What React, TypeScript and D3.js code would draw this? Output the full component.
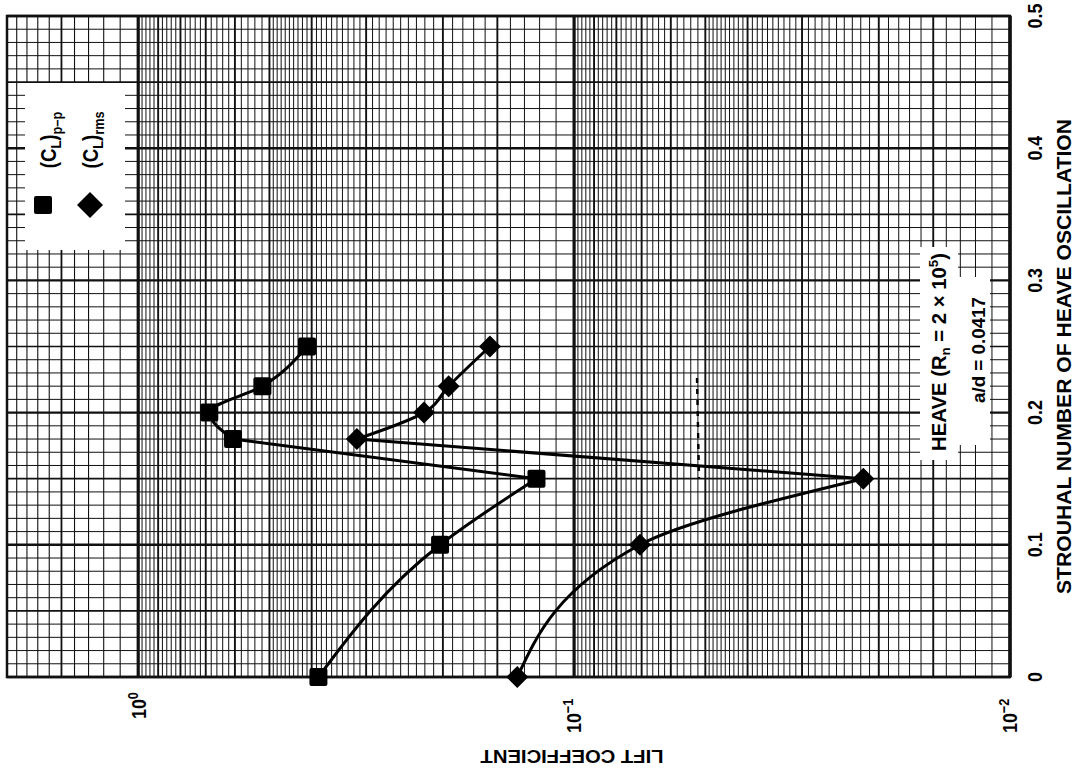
import React from "react";
import * as d3 from "d3";

const strouhal = [0, 0.1, 0.15, 0.18, 0.2, 0.22, 0.25];
const clPeakToPeak = [0.386, 0.203, 0.122, 0.606, 0.687, 0.519, 0.41];
const clRms = [0.135, 0.0706, 0.0217, 0.315, 0.221, 0.194, 0.156];
const stTicks = [0, 0.1, 0.2, 0.3, 0.4, 0.5];
const stTickLabels = ["0", "0.1", "0.2", "0.3", "0.4", "0.5"];
const decadeTicks = [1, 0.1, 0.01];
const decadeExp = ["0", "\u22121", "\u22122"];

const W = 1079;
const H = 773;
const FONT = "'Liberation Sans', Arial, sans-serif";
const SQZ = "scale(0.85,1)";

export default function App() {
  const x = d3.scaleLog().domain([2, 0.01]).range([7, 1010]);
  const y = d3.scaleLinear().domain([0, 0.5]).range([677, 16]);

  // graph-paper vertical lines (log)
  const vLines: { v: number; w: number }[] = [];
  for (let k = 10; k <= 20; k++) {
    const v = k / 10;
    vLines.push({ v, w: k === 10 ? 3.2 : k === 15 ? 1.8 : 1.1 });
  }
  [0.1, 0.01].forEach((d) => {
    for (let k = 10; k < 50; k++) {
      const v = (k / 100) * d * 10;
      const isInt = k % 10 === 0;
      const isHalf = k === 15;
      vLines.push({ v, w: k === 10 ? 3.2 : isInt || isHalf ? 1.9 : 1 });
    }
    for (let k = 50; k < 100; k += 2) {
      const v = (k / 100) * d * 10;
      vLines.push({ v, w: k % 10 === 0 ? 1.9 : 1 });
    }
  });
  vLines.push({ v: 0.01, w: 3 });

  const hLines: { v: number; w: number }[] = [];
  for (let k = 0; k <= 50; k++) {
    hLines.push({ v: k / 100, w: k % 10 === 0 ? 2.4 : k % 5 === 0 ? 1.7 : 1 });
  }

  const pts = (vals: number[]) => strouhal.map((s, i) => [x(vals[i]), y(s)] as [number, number]);
  const mono = d3.line().curve(d3.curveMonotoneY);
  const lin = d3.line();
  const curvePaths = (vals: number[]) => {
    const p = pts(vals);
    return [mono(p.slice(0, 3)), lin(p.slice(2, 4)), mono(p.slice(3))];
  };

  const [x0, x1] = x.range();
  const [yb, yt] = y.range();

  const sq = 18;
  const dm = 11;

  return (
    <svg width={W} height={H} style={{ position: "absolute", left: 0, top: 0, background: "#fff" }} fontFamily={FONT}>
      <rect x={0} y={0} width={W} height={H} fill="#fff" />
      {/* grid */}
      <g stroke="#111">
        {hLines.map((l, i) => (
          <line key={"h" + i} x1={x0} x2={x1} y1={y(l.v)} y2={y(l.v)} strokeWidth={l.w} />
        ))}
        {vLines.map((l, i) => (
          <line key={"v" + i} x1={x(l.v)} x2={x(l.v)} y1={yt} y2={yb} strokeWidth={l.w} />
        ))}
        <rect x={x0} y={yt} width={x1 - x0} height={yb - yt} fill="none" strokeWidth={2.5} />
      </g>

      {/* legend box */}
      <rect x={25} y={83} width={100} height={167} fill="#fff" />
      <g fontWeight="bold" fontSize={22}>
        <rect x={43 - 9} y={205 - 9} width={18} height={18} rx={2} fill="#000" />
        <path d={`M90,${205 - 13} L103,205 L90,${205 + 13} L77,205 Z`} fill="#000" />
        <text transform={`translate(56,140) rotate(-90) ${SQZ}`} textAnchor="middle">
          (C<tspan fontSize={15} dy={5}>L</tspan>
          <tspan dy={-5}>)</tspan>
          <tspan fontSize={15} dy={6}>p{"\u2013"}p</tspan>
        </text>
        <text transform={`translate(98,140) rotate(-90) ${SQZ}`} textAnchor="middle">
          (C<tspan fontSize={15} dy={5}>L</tspan>
          <tspan dy={-5}>)</tspan>
          <tspan fontSize={15} dy={6}>rms</tspan>
        </text>
      </g>

      {/* annotation box */}
      <rect x={920} y={247} width={38} height={213} fill="#fff" />
      <rect x={956} y={277} width={34} height={168} fill="#fff" />
      <g fontWeight="bold">
        <text transform="translate(946,352) rotate(-90)" textAnchor="middle" fontSize={20} textLength={198} lengthAdjust="spacingAndGlyphs">
          HEAVE (R<tspan fontSize={13} dy={4}>n</tspan>
          <tspan dy={-4}> = 2 × 10</tspan>
          <tspan fontSize={13} dy={-8}>5</tspan>
          <tspan dy={8}>)</tspan>
        </text>
        <text transform="translate(985,350) rotate(-90)" textAnchor="middle" fontSize={18} textLength={106} lengthAdjust="spacingAndGlyphs">
          a/d = 0.0417
        </text>
      </g>

      {/* hand-drawn annotation marks */}
      <line x1={697} x2={699} y1={378} y2={478} stroke="#000" strokeWidth={2.4} strokeDasharray="5,6" />

      {/* curves */}
      <g fill="none" stroke="#000" strokeWidth={3}>
        {curvePaths(clPeakToPeak).map((d, i) => (
          <path key={"pc" + i} d={d || ""} />
        ))}
        {curvePaths(clRms).map((d, i) => (
          <path key={"rc" + i} d={d || ""} />
        ))}
      </g>
      {/* markers */}
      <g fill="#000">
        {strouhal.map((s, i) => (
          <rect key={"sq" + i} x={x(clPeakToPeak[i]) - sq / 2} y={y(s) - sq / 2} width={sq} height={sq} rx={2} />
        ))}
        {strouhal.map((s, i) => {
          const cx = x(clRms[i]);
          const cy = y(s);
          return <path key={"dm" + i} d={`M${cx},${cy - dm} L${cx + dm},${cy} L${cx},${cy + dm} L${cx - dm},${cy} Z`} />;
        })}
      </g>

      {/* St tick labels */}
      <g fontWeight="bold" fontSize={21}>
        {stTicks.map((t, i) => (
          <text key={"st" + i} transform={`translate(1035,${y(t)}) rotate(-90) ${SQZ}`} textAnchor="middle" dy="0.35em">
            {stTickLabels[i]}
          </text>
        ))}
        <text
          transform={`translate(1064,${(yb + yt) / 2 + 10}) rotate(-90)`}
          textAnchor="middle"
          dy="0.35em"
          fontSize={21}
          textLength={475}
          lengthAdjust="spacingAndGlyphs"
        >
          STROUHAL NUMBER OF HEAVE OSCILLATION
        </text>
      </g>

      {/* log decade labels */}
      <g fontWeight="bold" fontSize={21}>
        {decadeTicks.map((t, i) => (
          <text key={"dc" + i} transform={`translate(${x(t)},${i === 0 ? 719 : 733}) rotate(-90) ${SQZ}`} textAnchor="start" dy="0.35em">
            10<tspan fontSize={15} dy={-8}>{decadeExp[i]}</tspan>
          </text>
        ))}
        <text
          transform="translate(572,757) rotate(180)"
          textAnchor="middle"
          dy="0.35em"
          fontSize={19}
          textLength={183}
          lengthAdjust="spacingAndGlyphs"
        >
          LIFT COEFFICIENT
        </text>
      </g>
    </svg>
  );
}
